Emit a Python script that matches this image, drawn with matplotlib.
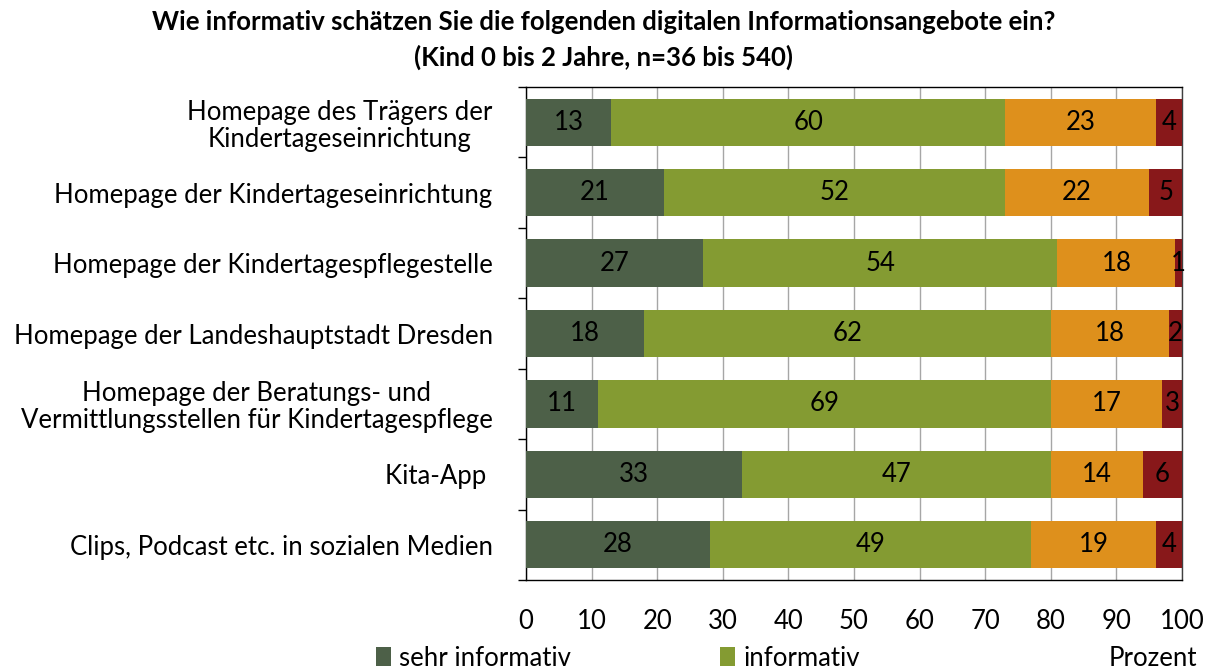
import matplotlib
matplotlib.use("Agg")
import matplotlib.pyplot as plt
import numpy as np

plt.rcParams['font.family'] = ['Lato', 'DejaVu Sans']

categories = [
    "Homepage des Trägers der\nKindertageseinrichtung",
    "Homepage der Kindertageseinrichtung",
    "Homepage der Kindertagespflegestelle",
    "Homepage der Landeshauptstadt Dresden",
    "Homepage der Beratungs- und\nVermittlungsstellen für Kindertagespflege",
    "Kita-App ",
    "Clips, Podcast etc. in sozialen Medien",
]
sehr_informativ = [13, 21, 27, 18, 11, 33, 28]
informativ = [60, 52, 54, 62, 69, 47, 49]
wenig_informativ = [23, 22, 18, 18, 17, 14, 19]
gar_nicht_informativ = [4, 5, 1, 2, 3, 6, 4]
series_names = ["sehr informativ", "informativ", "wenig informativ", "gar nicht informativ"]
x_ticks = [0, 10, 20, 30, 40, 50, 60, 70, 80, 90, 100]

colors = ["#4D6048", "#849B32", "#DE901C", "#88181A"]
FS = 18.5

fig = plt.figure(figsize=(12.05, 6.71), dpi=100)
ax = fig.add_axes([526/1205, 1 - 580/671, (1182-526)/1205, (580-87)/671])

series = [sehr_informativ, informativ, wenig_informativ, gar_nicht_informativ]
y = np.arange(len(categories))
left = np.zeros(len(categories))
handles = []
for vals, col, name in zip(series, colors, series_names):
    vals = np.array(vals, dtype=float)
    bars = ax.barh(y, vals, left=left, height=0.67, color=col, label=name, zorder=3)
    handles.append(bars)
    for yi, (l, v) in enumerate(zip(left, vals)):
        ax.text(l + v / 2, yi, f"{v:.0f}", ha='center', va='center', fontsize=FS, color='black', zorder=4)
    left += vals

ax.set_xlim(0, 100)
ax.set_ylim(len(categories) - 0.5, -0.5)
ax.set_xticks(x_ticks)
ax.set_xticklabels([str(t) for t in x_ticks], fontsize=FS)
ax.tick_params(axis='x', length=0, pad=21)
ax.set_yticks(y)
ax.set_yticklabels(categories, fontsize=FS, multialignment='center', linespacing=1.1)
ax.tick_params(axis='y', which='major', length=0, pad=24)
ax.set_yticks(np.arange(-0.5, len(categories), 1), minor=True)
ax.tick_params(axis='y', which='minor', length=6, direction='out', width=1, color='black')
ax.grid(axis='x', color='#A6A6A6', linewidth=1, zorder=0)
for s in ax.spines.values():
    s.set_color('black')
    s.set_linewidth(1)
ax.spines['right'].set_color('#404040')

fig.text(604/1205, 1 - 22/671, "Wie informativ schätzen Sie die folgenden digitalen Informationsangebote ein?",
         ha='center', va='center', fontsize=18.5, fontweight='bold')
fig.text(604/1205, 1 - 57/671, "(Kind 0 bis 2 Jahre, n=36 bis 540)",
         ha='center', va='center', fontsize=18.5, fontweight='bold')

fig.legend(handles=handles[:2], labels=series_names[:2], ncol=2, loc='center left',
           bbox_to_anchor=(376/1205, 1 - 658/671), frameon=False, fontsize=FS,
           handlelength=0.6, handleheight=0.8, handletextpad=0.3, columnspacing=5.8,
           borderaxespad=0, borderpad=0)

fig.text(1197/1205, 1 - 658/671, "Prozent", ha='right', va='center', fontsize=FS)

fig.savefig("out.png", dpi=100)
